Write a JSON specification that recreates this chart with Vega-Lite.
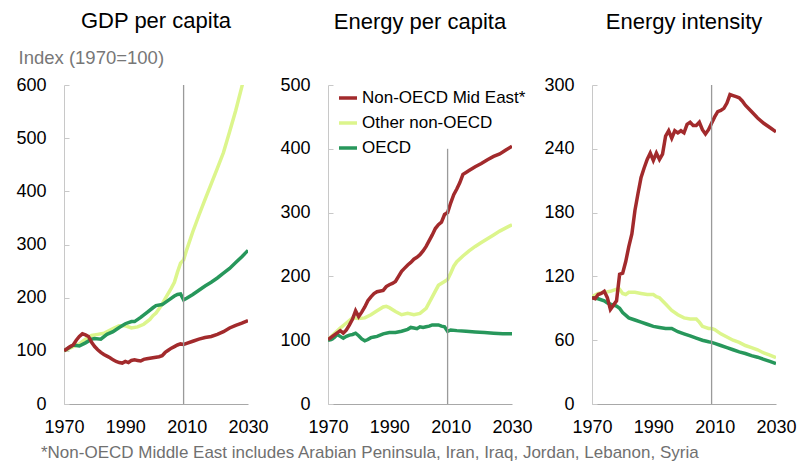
{
  "$schema": "https://vega.github.io/schema/vega-lite/v6.json",
  "padding": {"left": 15, "top": 10, "right": 3, "bottom": 5},
  "bounds": "flush",
  "spacing": 80,
  "config": {
    "view": {"stroke": null},
    "font": "Liberation Sans",
    "axis": {"labelFont": "Liberation Sans", "labelFontSize": 18, "labelColor": "#000", "grid": false, "domainColor": "#c8c8c8", "tickColor": "#c8c8c8", "title": null},
    "title": {"font": "Liberation Sans", "fontSize": 22, "fontWeight": "normal", "color": "#000"}
  },
  "title": {"text": "*Non-OECD Middle East includes Arabian Peninsula, Iran, Iraq, Jordan, Lebanon, Syria", "orient": "bottom", "anchor": "start", "fontSize": 17, "color": "#707070", "offset": 9, "dx": 25, "baseline": "top"},
  "datasets": {
    "gdp": [
      {"region": "Other non-OECD", "year": 1970, "value": 100}, {"region": "Other non-OECD", "year": 1973, "value": 108}, {"region": "Other non-OECD", "year": 1975, "value": 113}, {"region": "Other non-OECD", "year": 1977, "value": 122}, {"region": "Other non-OECD", "year": 1979, "value": 129}, {"region": "Other non-OECD", "year": 1981, "value": 131}, {"region": "Other non-OECD", "year": 1983, "value": 133}, {"region": "Other non-OECD", "year": 1986, "value": 142}, {"region": "Other non-OECD", "year": 1988, "value": 147}, {"region": "Other non-OECD", "year": 1990, "value": 147}, {"region": "Other non-OECD", "year": 1992, "value": 143}, {"region": "Other non-OECD", "year": 1994, "value": 145}, {"region": "Other non-OECD", "year": 1996, "value": 150}, {"region": "Other non-OECD", "year": 1998, "value": 159}, {"region": "Other non-OECD", "year": 1999, "value": 166}, {"region": "Other non-OECD", "year": 2000, "value": 171}, {"region": "Other non-OECD", "year": 2001, "value": 179}, {"region": "Other non-OECD", "year": 2002, "value": 188}, {"region": "Other non-OECD", "year": 2003, "value": 198}, {"region": "Other non-OECD", "year": 2004, "value": 208}, {"region": "Other non-OECD", "year": 2005, "value": 218}, {"region": "Other non-OECD", "year": 2006, "value": 229}, {"region": "Other non-OECD", "year": 2007, "value": 248}, {"region": "Other non-OECD", "year": 2008, "value": 265}, {"region": "Other non-OECD", "year": 2009, "value": 271}, {"region": "Other non-OECD", "year": 2010, "value": 290}, {"region": "Other non-OECD", "year": 2012, "value": 324}, {"region": "Other non-OECD", "year": 2014, "value": 355}, {"region": "Other non-OECD", "year": 2016, "value": 385}, {"region": "Other non-OECD", "year": 2018, "value": 414}, {"region": "Other non-OECD", "year": 2020, "value": 443}, {"region": "Other non-OECD", "year": 2022, "value": 473}, {"region": "Other non-OECD", "year": 2024, "value": 512}, {"region": "Other non-OECD", "year": 2026, "value": 552}, {"region": "Other non-OECD", "year": 2028, "value": 597}, {"region": "Other non-OECD", "year": 2030, "value": 645},
      {"region": "OECD", "year": 1970, "value": 100}, {"region": "OECD", "year": 1972, "value": 107}, {"region": "OECD", "year": 1973, "value": 111}, {"region": "OECD", "year": 1974, "value": 110}, {"region": "OECD", "year": 1975, "value": 109}, {"region": "OECD", "year": 1977, "value": 115}, {"region": "OECD", "year": 1979, "value": 122}, {"region": "OECD", "year": 1980, "value": 123}, {"region": "OECD", "year": 1982, "value": 122}, {"region": "OECD", "year": 1984, "value": 131}, {"region": "OECD", "year": 1986, "value": 136}, {"region": "OECD", "year": 1988, "value": 144}, {"region": "OECD", "year": 1990, "value": 151}, {"region": "OECD", "year": 1992, "value": 155}, {"region": "OECD", "year": 1993, "value": 155}, {"region": "OECD", "year": 1995, "value": 163}, {"region": "OECD", "year": 1997, "value": 172}, {"region": "OECD", "year": 1999, "value": 181}, {"region": "OECD", "year": 2000, "value": 185}, {"region": "OECD", "year": 2002, "value": 187}, {"region": "OECD", "year": 2004, "value": 195}, {"region": "OECD", "year": 2006, "value": 203}, {"region": "OECD", "year": 2007, "value": 206}, {"region": "OECD", "year": 2008, "value": 207}, {"region": "OECD", "year": 2009, "value": 196}, {"region": "OECD", "year": 2010, "value": 199}, {"region": "OECD", "year": 2012, "value": 206}, {"region": "OECD", "year": 2014, "value": 214}, {"region": "OECD", "year": 2016, "value": 222}, {"region": "OECD", "year": 2018, "value": 229}, {"region": "OECD", "year": 2020, "value": 237}, {"region": "OECD", "year": 2022, "value": 246}, {"region": "OECD", "year": 2024, "value": 255}, {"region": "OECD", "year": 2026, "value": 266}, {"region": "OECD", "year": 2028, "value": 277}, {"region": "OECD", "year": 2030, "value": 289},
      {"region": "Non-OECD Mid East", "year": 1970, "value": 100}, {"region": "Non-OECD Mid East", "year": 1971, "value": 104}, {"region": "Non-OECD Mid East", "year": 1972, "value": 108}, {"region": "Non-OECD Mid East", "year": 1973, "value": 111}, {"region": "Non-OECD Mid East", "year": 1974, "value": 120}, {"region": "Non-OECD Mid East", "year": 1975, "value": 127}, {"region": "Non-OECD Mid East", "year": 1976, "value": 132}, {"region": "Non-OECD Mid East", "year": 1977, "value": 130}, {"region": "Non-OECD Mid East", "year": 1978, "value": 127}, {"region": "Non-OECD Mid East", "year": 1979, "value": 116}, {"region": "Non-OECD Mid East", "year": 1980, "value": 108}, {"region": "Non-OECD Mid East", "year": 1981, "value": 102}, {"region": "Non-OECD Mid East", "year": 1982, "value": 97}, {"region": "Non-OECD Mid East", "year": 1983, "value": 93}, {"region": "Non-OECD Mid East", "year": 1984, "value": 90}, {"region": "Non-OECD Mid East", "year": 1985, "value": 87}, {"region": "Non-OECD Mid East", "year": 1986, "value": 83}, {"region": "Non-OECD Mid East", "year": 1987, "value": 80}, {"region": "Non-OECD Mid East", "year": 1988, "value": 78}, {"region": "Non-OECD Mid East", "year": 1989, "value": 77}, {"region": "Non-OECD Mid East", "year": 1990, "value": 80}, {"region": "Non-OECD Mid East", "year": 1991, "value": 78}, {"region": "Non-OECD Mid East", "year": 1992, "value": 82}, {"region": "Non-OECD Mid East", "year": 1993, "value": 83}, {"region": "Non-OECD Mid East", "year": 1994, "value": 82}, {"region": "Non-OECD Mid East", "year": 1995, "value": 81}, {"region": "Non-OECD Mid East", "year": 1996, "value": 84}, {"region": "Non-OECD Mid East", "year": 1997, "value": 85}, {"region": "Non-OECD Mid East", "year": 1998, "value": 86}, {"region": "Non-OECD Mid East", "year": 1999, "value": 87}, {"region": "Non-OECD Mid East", "year": 2000, "value": 88}, {"region": "Non-OECD Mid East", "year": 2001, "value": 89}, {"region": "Non-OECD Mid East", "year": 2002, "value": 91}, {"region": "Non-OECD Mid East", "year": 2003, "value": 97}, {"region": "Non-OECD Mid East", "year": 2004, "value": 101}, {"region": "Non-OECD Mid East", "year": 2005, "value": 105}, {"region": "Non-OECD Mid East", "year": 2006, "value": 108}, {"region": "Non-OECD Mid East", "year": 2007, "value": 111}, {"region": "Non-OECD Mid East", "year": 2008, "value": 113}, {"region": "Non-OECD Mid East", "year": 2009, "value": 112}, {"region": "Non-OECD Mid East", "year": 2010, "value": 114}, {"region": "Non-OECD Mid East", "year": 2012, "value": 118}, {"region": "Non-OECD Mid East", "year": 2014, "value": 122}, {"region": "Non-OECD Mid East", "year": 2016, "value": 125}, {"region": "Non-OECD Mid East", "year": 2018, "value": 127}, {"region": "Non-OECD Mid East", "year": 2020, "value": 131}, {"region": "Non-OECD Mid East", "year": 2022, "value": 136}, {"region": "Non-OECD Mid East", "year": 2024, "value": 143}, {"region": "Non-OECD Mid East", "year": 2026, "value": 148}, {"region": "Non-OECD Mid East", "year": 2028, "value": 152}, {"region": "Non-OECD Mid East", "year": 2030, "value": 157}
    ],
    "energy": [
      {"region": "Other non-OECD", "year": 1970, "value": 101}, {"region": "Other non-OECD", "year": 1972, "value": 110}, {"region": "Other non-OECD", "year": 1974, "value": 119}, {"region": "Other non-OECD", "year": 1976, "value": 127}, {"region": "Other non-OECD", "year": 1978, "value": 135}, {"region": "Other non-OECD", "year": 1980, "value": 134}, {"region": "Other non-OECD", "year": 1982, "value": 135}, {"region": "Other non-OECD", "year": 1984, "value": 140}, {"region": "Other non-OECD", "year": 1986, "value": 146}, {"region": "Other non-OECD", "year": 1988, "value": 152}, {"region": "Other non-OECD", "year": 1989, "value": 153}, {"region": "Other non-OECD", "year": 1990, "value": 151}, {"region": "Other non-OECD", "year": 1992, "value": 145}, {"region": "Other non-OECD", "year": 1994, "value": 140}, {"region": "Other non-OECD", "year": 1996, "value": 142}, {"region": "Other non-OECD", "year": 1998, "value": 140}, {"region": "Other non-OECD", "year": 2000, "value": 142}, {"region": "Other non-OECD", "year": 2002, "value": 150}, {"region": "Other non-OECD", "year": 2004, "value": 168}, {"region": "Other non-OECD", "year": 2006, "value": 186}, {"region": "Other non-OECD", "year": 2008, "value": 192}, {"region": "Other non-OECD", "year": 2009, "value": 195}, {"region": "Other non-OECD", "year": 2010, "value": 205}, {"region": "Other non-OECD", "year": 2011, "value": 216}, {"region": "Other non-OECD", "year": 2012, "value": 223}, {"region": "Other non-OECD", "year": 2014, "value": 232}, {"region": "Other non-OECD", "year": 2016, "value": 240}, {"region": "Other non-OECD", "year": 2018, "value": 247}, {"region": "Other non-OECD", "year": 2020, "value": 253}, {"region": "Other non-OECD", "year": 2022, "value": 259}, {"region": "Other non-OECD", "year": 2024, "value": 265}, {"region": "Other non-OECD", "year": 2026, "value": 271}, {"region": "Other non-OECD", "year": 2028, "value": 276}, {"region": "Other non-OECD", "year": 2030, "value": 281},
      {"region": "OECD", "year": 1970, "value": 100}, {"region": "OECD", "year": 1971, "value": 101}, {"region": "OECD", "year": 1972, "value": 104}, {"region": "OECD", "year": 1973, "value": 109}, {"region": "OECD", "year": 1974, "value": 106}, {"region": "OECD", "year": 1975, "value": 103}, {"region": "OECD", "year": 1976, "value": 106}, {"region": "OECD", "year": 1977, "value": 108}, {"region": "OECD", "year": 1978, "value": 109}, {"region": "OECD", "year": 1979, "value": 111}, {"region": "OECD", "year": 1980, "value": 107}, {"region": "OECD", "year": 1981, "value": 102}, {"region": "OECD", "year": 1982, "value": 99}, {"region": "OECD", "year": 1983, "value": 101}, {"region": "OECD", "year": 1984, "value": 104}, {"region": "OECD", "year": 1985, "value": 105}, {"region": "OECD", "year": 1986, "value": 106}, {"region": "OECD", "year": 1988, "value": 110}, {"region": "OECD", "year": 1990, "value": 112}, {"region": "OECD", "year": 1992, "value": 112}, {"region": "OECD", "year": 1994, "value": 114}, {"region": "OECD", "year": 1996, "value": 117}, {"region": "OECD", "year": 1997, "value": 120}, {"region": "OECD", "year": 1998, "value": 119}, {"region": "OECD", "year": 1999, "value": 118}, {"region": "OECD", "year": 2000, "value": 121}, {"region": "OECD", "year": 2001, "value": 120}, {"region": "OECD", "year": 2002, "value": 121}, {"region": "OECD", "year": 2003, "value": 122}, {"region": "OECD", "year": 2004, "value": 124}, {"region": "OECD", "year": 2005, "value": 124}, {"region": "OECD", "year": 2006, "value": 124}, {"region": "OECD", "year": 2007, "value": 122}, {"region": "OECD", "year": 2008, "value": 121}, {"region": "OECD", "year": 2009, "value": 114}, {"region": "OECD", "year": 2010, "value": 116}, {"region": "OECD", "year": 2012, "value": 115}, {"region": "OECD", "year": 2015, "value": 114}, {"region": "OECD", "year": 2018, "value": 113}, {"region": "OECD", "year": 2021, "value": 112}, {"region": "OECD", "year": 2024, "value": 111}, {"region": "OECD", "year": 2027, "value": 110}, {"region": "OECD", "year": 2030, "value": 110},
      {"region": "Non-OECD Mid East", "year": 1970, "value": 101}, {"region": "Non-OECD Mid East", "year": 1972, "value": 108}, {"region": "Non-OECD Mid East", "year": 1974, "value": 115}, {"region": "Non-OECD Mid East", "year": 1975, "value": 111}, {"region": "Non-OECD Mid East", "year": 1976, "value": 116}, {"region": "Non-OECD Mid East", "year": 1977, "value": 124}, {"region": "Non-OECD Mid East", "year": 1978, "value": 133}, {"region": "Non-OECD Mid East", "year": 1979, "value": 146}, {"region": "Non-OECD Mid East", "year": 1980, "value": 137}, {"region": "Non-OECD Mid East", "year": 1981, "value": 144}, {"region": "Non-OECD Mid East", "year": 1982, "value": 152}, {"region": "Non-OECD Mid East", "year": 1983, "value": 162}, {"region": "Non-OECD Mid East", "year": 1984, "value": 168}, {"region": "Non-OECD Mid East", "year": 1985, "value": 173}, {"region": "Non-OECD Mid East", "year": 1986, "value": 176}, {"region": "Non-OECD Mid East", "year": 1988, "value": 178}, {"region": "Non-OECD Mid East", "year": 1989, "value": 184}, {"region": "Non-OECD Mid East", "year": 1990, "value": 187}, {"region": "Non-OECD Mid East", "year": 1991, "value": 189}, {"region": "Non-OECD Mid East", "year": 1992, "value": 192}, {"region": "Non-OECD Mid East", "year": 1993, "value": 200}, {"region": "Non-OECD Mid East", "year": 1994, "value": 208}, {"region": "Non-OECD Mid East", "year": 1995, "value": 213}, {"region": "Non-OECD Mid East", "year": 1996, "value": 218}, {"region": "Non-OECD Mid East", "year": 1997, "value": 222}, {"region": "Non-OECD Mid East", "year": 1998, "value": 227}, {"region": "Non-OECD Mid East", "year": 1999, "value": 230}, {"region": "Non-OECD Mid East", "year": 2000, "value": 234}, {"region": "Non-OECD Mid East", "year": 2001, "value": 240}, {"region": "Non-OECD Mid East", "year": 2002, "value": 247}, {"region": "Non-OECD Mid East", "year": 2003, "value": 256}, {"region": "Non-OECD Mid East", "year": 2004, "value": 265}, {"region": "Non-OECD Mid East", "year": 2005, "value": 275}, {"region": "Non-OECD Mid East", "year": 2006, "value": 281}, {"region": "Non-OECD Mid East", "year": 2007, "value": 285}, {"region": "Non-OECD Mid East", "year": 2008, "value": 297}, {"region": "Non-OECD Mid East", "year": 2009, "value": 300}, {"region": "Non-OECD Mid East", "year": 2010, "value": 315}, {"region": "Non-OECD Mid East", "year": 2011, "value": 328}, {"region": "Non-OECD Mid East", "year": 2012, "value": 337}, {"region": "Non-OECD Mid East", "year": 2013, "value": 347}, {"region": "Non-OECD Mid East", "year": 2014, "value": 360}, {"region": "Non-OECD Mid East", "year": 2015, "value": 363}, {"region": "Non-OECD Mid East", "year": 2016, "value": 366}, {"region": "Non-OECD Mid East", "year": 2018, "value": 372}, {"region": "Non-OECD Mid East", "year": 2020, "value": 377}, {"region": "Non-OECD Mid East", "year": 2022, "value": 383}, {"region": "Non-OECD Mid East", "year": 2024, "value": 388}, {"region": "Non-OECD Mid East", "year": 2026, "value": 392}, {"region": "Non-OECD Mid East", "year": 2028, "value": 398}, {"region": "Non-OECD Mid East", "year": 2030, "value": 404}
    ],
    "intensity": [
      {"region": "Other non-OECD", "year": 1970, "value": 101}, {"region": "Other non-OECD", "year": 1972, "value": 104}, {"region": "Other non-OECD", "year": 1974, "value": 105}, {"region": "Other non-OECD", "year": 1976, "value": 106}, {"region": "Other non-OECD", "year": 1978, "value": 108}, {"region": "Other non-OECD", "year": 1979, "value": 108}, {"region": "Other non-OECD", "year": 1980, "value": 104}, {"region": "Other non-OECD", "year": 1981, "value": 103}, {"region": "Other non-OECD", "year": 1982, "value": 105}, {"region": "Other non-OECD", "year": 1984, "value": 105}, {"region": "Other non-OECD", "year": 1986, "value": 104}, {"region": "Other non-OECD", "year": 1988, "value": 103}, {"region": "Other non-OECD", "year": 1990, "value": 103}, {"region": "Other non-OECD", "year": 1991, "value": 101}, {"region": "Other non-OECD", "year": 1992, "value": 100}, {"region": "Other non-OECD", "year": 1994, "value": 94}, {"region": "Other non-OECD", "year": 1996, "value": 88}, {"region": "Other non-OECD", "year": 1998, "value": 84}, {"region": "Other non-OECD", "year": 2000, "value": 81}, {"region": "Other non-OECD", "year": 2002, "value": 80}, {"region": "Other non-OECD", "year": 2004, "value": 80}, {"region": "Other non-OECD", "year": 2005, "value": 77}, {"region": "Other non-OECD", "year": 2006, "value": 73}, {"region": "Other non-OECD", "year": 2008, "value": 71}, {"region": "Other non-OECD", "year": 2009, "value": 71}, {"region": "Other non-OECD", "year": 2010, "value": 70}, {"region": "Other non-OECD", "year": 2012, "value": 66}, {"region": "Other non-OECD", "year": 2014, "value": 63}, {"region": "Other non-OECD", "year": 2016, "value": 60}, {"region": "Other non-OECD", "year": 2018, "value": 58}, {"region": "Other non-OECD", "year": 2020, "value": 55}, {"region": "Other non-OECD", "year": 2022, "value": 53}, {"region": "Other non-OECD", "year": 2024, "value": 51}, {"region": "Other non-OECD", "year": 2026, "value": 48}, {"region": "Other non-OECD", "year": 2028, "value": 46}, {"region": "Other non-OECD", "year": 2030, "value": 43.5},
      {"region": "OECD", "year": 1970, "value": 100}, {"region": "OECD", "year": 1972, "value": 99}, {"region": "OECD", "year": 1974, "value": 97}, {"region": "OECD", "year": 1975, "value": 95}, {"region": "OECD", "year": 1976, "value": 94}, {"region": "OECD", "year": 1978, "value": 92}, {"region": "OECD", "year": 1979, "value": 90}, {"region": "OECD", "year": 1980, "value": 86}, {"region": "OECD", "year": 1982, "value": 81}, {"region": "OECD", "year": 1984, "value": 79}, {"region": "OECD", "year": 1986, "value": 77}, {"region": "OECD", "year": 1988, "value": 75}, {"region": "OECD", "year": 1990, "value": 73}, {"region": "OECD", "year": 1992, "value": 72}, {"region": "OECD", "year": 1994, "value": 71}, {"region": "OECD", "year": 1996, "value": 71}, {"region": "OECD", "year": 1998, "value": 68}, {"region": "OECD", "year": 2000, "value": 66}, {"region": "OECD", "year": 2002, "value": 64}, {"region": "OECD", "year": 2004, "value": 62}, {"region": "OECD", "year": 2006, "value": 60}, {"region": "OECD", "year": 2008, "value": 58.5}, {"region": "OECD", "year": 2009, "value": 58}, {"region": "OECD", "year": 2010, "value": 57}, {"region": "OECD", "year": 2012, "value": 55}, {"region": "OECD", "year": 2014, "value": 53}, {"region": "OECD", "year": 2016, "value": 51}, {"region": "OECD", "year": 2018, "value": 49}, {"region": "OECD", "year": 2020, "value": 47.5}, {"region": "OECD", "year": 2022, "value": 45.5}, {"region": "OECD", "year": 2024, "value": 44}, {"region": "OECD", "year": 2026, "value": 42}, {"region": "OECD", "year": 2028, "value": 40}, {"region": "OECD", "year": 2030, "value": 38},
      {"region": "Non-OECD Mid East", "year": 1970, "value": 100}, {"region": "Non-OECD Mid East", "year": 1971, "value": 99}, {"region": "Non-OECD Mid East", "year": 1972, "value": 103}, {"region": "Non-OECD Mid East", "year": 1973, "value": 104}, {"region": "Non-OECD Mid East", "year": 1974, "value": 106}, {"region": "Non-OECD Mid East", "year": 1975, "value": 100}, {"region": "Non-OECD Mid East", "year": 1976, "value": 89}, {"region": "Non-OECD Mid East", "year": 1977, "value": 93}, {"region": "Non-OECD Mid East", "year": 1978, "value": 97}, {"region": "Non-OECD Mid East", "year": 1979, "value": 122}, {"region": "Non-OECD Mid East", "year": 1980, "value": 123}, {"region": "Non-OECD Mid East", "year": 1981, "value": 134}, {"region": "Non-OECD Mid East", "year": 1982, "value": 148}, {"region": "Non-OECD Mid East", "year": 1983, "value": 160}, {"region": "Non-OECD Mid East", "year": 1984, "value": 182}, {"region": "Non-OECD Mid East", "year": 1985, "value": 198}, {"region": "Non-OECD Mid East", "year": 1986, "value": 213}, {"region": "Non-OECD Mid East", "year": 1987, "value": 222}, {"region": "Non-OECD Mid East", "year": 1988, "value": 230}, {"region": "Non-OECD Mid East", "year": 1989, "value": 236}, {"region": "Non-OECD Mid East", "year": 1990, "value": 229}, {"region": "Non-OECD Mid East", "year": 1991, "value": 236}, {"region": "Non-OECD Mid East", "year": 1992, "value": 230}, {"region": "Non-OECD Mid East", "year": 1993, "value": 235}, {"region": "Non-OECD Mid East", "year": 1994, "value": 252}, {"region": "Non-OECD Mid East", "year": 1995, "value": 257}, {"region": "Non-OECD Mid East", "year": 1996, "value": 250}, {"region": "Non-OECD Mid East", "year": 1997, "value": 257}, {"region": "Non-OECD Mid East", "year": 1998, "value": 255}, {"region": "Non-OECD Mid East", "year": 1999, "value": 257}, {"region": "Non-OECD Mid East", "year": 2000, "value": 255}, {"region": "Non-OECD Mid East", "year": 2001, "value": 263}, {"region": "Non-OECD Mid East", "year": 2002, "value": 265}, {"region": "Non-OECD Mid East", "year": 2003, "value": 262}, {"region": "Non-OECD Mid East", "year": 2004, "value": 262}, {"region": "Non-OECD Mid East", "year": 2005, "value": 265}, {"region": "Non-OECD Mid East", "year": 2006, "value": 258}, {"region": "Non-OECD Mid East", "year": 2007, "value": 254}, {"region": "Non-OECD Mid East", "year": 2008, "value": 258}, {"region": "Non-OECD Mid East", "year": 2009, "value": 264}, {"region": "Non-OECD Mid East", "year": 2010, "value": 270}, {"region": "Non-OECD Mid East", "year": 2011, "value": 275}, {"region": "Non-OECD Mid East", "year": 2012, "value": 276}, {"region": "Non-OECD Mid East", "year": 2013, "value": 278}, {"region": "Non-OECD Mid East", "year": 2014, "value": 283}, {"region": "Non-OECD Mid East", "year": 2015, "value": 291}, {"region": "Non-OECD Mid East", "year": 2016, "value": 290}, {"region": "Non-OECD Mid East", "year": 2017, "value": 289}, {"region": "Non-OECD Mid East", "year": 2018, "value": 288}, {"region": "Non-OECD Mid East", "year": 2019, "value": 285}, {"region": "Non-OECD Mid East", "year": 2020, "value": 281}, {"region": "Non-OECD Mid East", "year": 2022, "value": 275}, {"region": "Non-OECD Mid East", "year": 2024, "value": 269}, {"region": "Non-OECD Mid East", "year": 2026, "value": 264}, {"region": "Non-OECD Mid East", "year": 2028, "value": 260}, {"region": "Non-OECD Mid East", "year": 2030, "value": 256}
    ]
  },
  "resolve": {"scale": {"color": "independent"}},
  "hconcat": [
    {
      "width": 184, "height": 319,
      "title": {"text": "GDP per capita", "frame": "group", "anchor": "middle", "baseline": "alphabetic", "offset": -2},
      "layer": [
        {
          "data": {"name": "gdp"},
          "mark": {"type": "line", "strokeWidth": 3.5, "clip": true},
          "encoding": {
            "x": {"field": "year", "type": "quantitative", "scale": {"domain": [1970, 2030], "nice": false, "zero": false}, "axis": {"values": [1970, 1990, 2010, 2030], "format": "d", "ticks": false, "labelPadding": 14, "domainColor": "#a8a8a8", "labelFlush": false}},
            "y": {"field": "value", "type": "quantitative", "scale": {"domain": [0, 600], "nice": false}, "axis": {"values": [0, 100, 200, 300, 400, 500, 600], "tickSize": -5, "labelPadding": 23, "title": "Index (1970=100)", "titleAngle": 0, "titleAlign": "left", "titleBaseline": "alphabetic", "titleX": -46, "titleY": -22, "titleFontSize": 18.5, "titleFontWeight": "normal", "titleColor": "#777777", "titleFont": "Liberation Sans"}},
            "color": {"field": "region", "type": "nominal", "scale": {"domain": ["Non-OECD Mid East", "Other non-OECD", "OECD"], "range": ["#a22a2c", "#dcf58c", "#27975b"]}, "legend": null}
          }
        },
        {
          "data": {"values": [{"year": 2009, "lo": 0, "hi": 600}]},
          "mark": {"type": "rule", "color": "#9a9a9a", "strokeWidth": 1.3},
          "encoding": {"x": {"field": "year", "type": "quantitative"}, "y": {"field": "lo", "type": "quantitative"}, "y2": {"field": "hi"}}
        }
      ]
    },
    {
      "width": 184, "height": 319,
      "title": {"text": "Energy per capita", "frame": "group", "anchor": "middle", "baseline": "alphabetic", "offset": 25},
      "layer": [
        {
          "data": {"name": "energy"},
          "mark": {"type": "line", "strokeWidth": 3.5, "clip": true},
          "encoding": {
            "x": {"field": "year", "type": "quantitative", "scale": {"domain": [1970, 2030], "nice": false, "zero": false}, "axis": {"values": [1970, 1990, 2010, 2030], "format": "d", "ticks": false, "labelPadding": 14, "domainColor": "#a8a8a8", "labelFlush": false}},
            "y": {"field": "value", "type": "quantitative", "scale": {"domain": [0, 500], "nice": false}, "axis": {"values": [0, 100, 200, 300, 400, 500], "tickSize": -5, "labelPadding": 23}},
            "color": {"field": "region", "type": "nominal", "scale": {"domain": ["Non-OECD Mid East", "Other non-OECD", "OECD"], "range": ["#a22a2c", "#dcf58c", "#27975b"]},
              "legend": {"orient": "none", "legendX": 9, "legendY": 2, "padding": 0, "title": null, "labelFontSize": 17, "labelFont": "Liberation Sans", "labelColor": "#000", "labelLimit": 0, "symbolType": "stroke", "symbolStrokeWidth": 3.5, "symbolSize": 324, "rowPadding": 6, "labelOffset": 3, "labelExpr": "datum.label == 'Non-OECD Mid East' ? 'Non-OECD Mid East*' : datum.label"}}
          }
        },
        {
          "data": {"values": [{"year": 2009, "lo": 0, "hi": 400}]},
          "mark": {"type": "rule", "color": "#9a9a9a", "strokeWidth": 1.3},
          "encoding": {"x": {"field": "year", "type": "quantitative"}, "y": {"field": "lo", "type": "quantitative"}, "y2": {"field": "hi"}}
        }
      ]
    },
    {
      "width": 184, "height": 319,
      "title": {"text": "Energy intensity", "frame": "group", "anchor": "middle", "baseline": "alphabetic", "offset": 25},
      "layer": [
        {
          "data": {"name": "intensity"},
          "mark": {"type": "line", "strokeWidth": 3.5, "clip": true},
          "encoding": {
            "x": {"field": "year", "type": "quantitative", "scale": {"domain": [1970, 2030], "nice": false, "zero": false}, "axis": {"values": [1970, 1990, 2010, 2030], "format": "d", "ticks": false, "labelPadding": 14, "domainColor": "#a8a8a8", "labelFlush": false}},
            "y": {"field": "value", "type": "quantitative", "scale": {"domain": [0, 300], "nice": false}, "axis": {"values": [0, 60, 120, 180, 240, 300], "tickSize": -5, "labelPadding": 23}},
            "color": {"field": "region", "type": "nominal", "scale": {"domain": ["Non-OECD Mid East", "Other non-OECD", "OECD"], "range": ["#a22a2c", "#dcf58c", "#27975b"]}, "legend": null}
          }
        },
        {
          "data": {"values": [{"year": 2009, "lo": 0, "hi": 300}]},
          "mark": {"type": "rule", "color": "#9a9a9a", "strokeWidth": 1.3},
          "encoding": {"x": {"field": "year", "type": "quantitative"}, "y": {"field": "lo", "type": "quantitative"}, "y2": {"field": "hi"}}
        }
      ]
    }
  ]
}
